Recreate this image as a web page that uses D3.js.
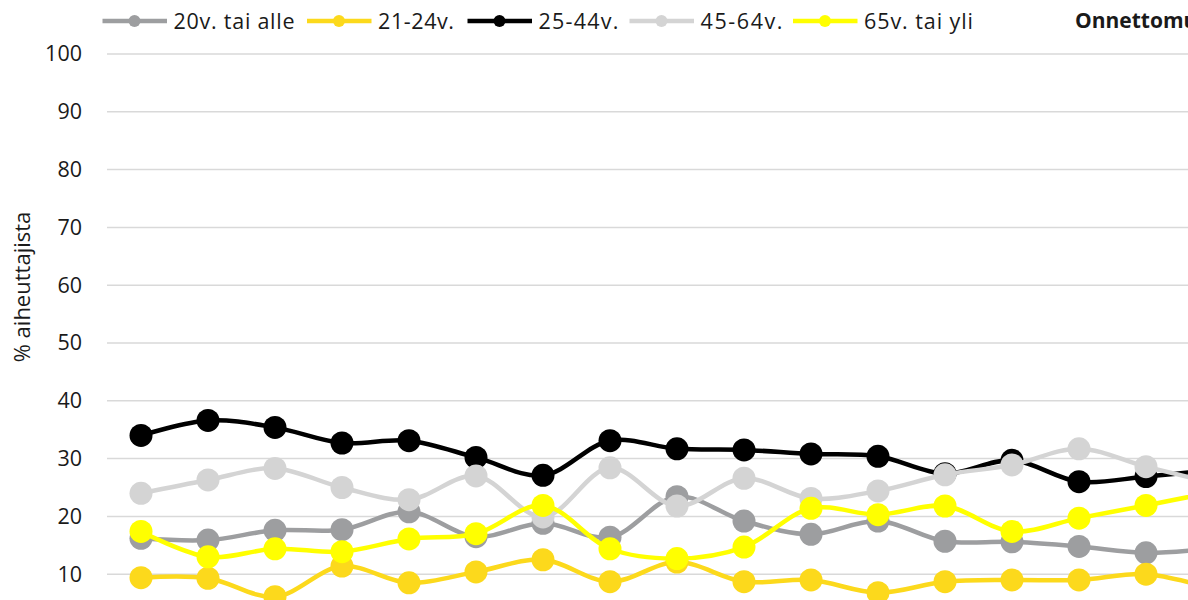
<!DOCTYPE html>
<html>
<head>
<meta charset="utf-8">
<script src="https://cdn.jsdelivr.net/npm/d3@7"></script>
<style>
  html, body { margin: 0; padding: 0; background: #fff; overflow: hidden; }
  svg { display: block; font-family: "Open Sans", "Noto Sans", sans-serif; }
</style>
</head>
<body>
<svg id="chart" width="1188" height="600"></svg>
<script>
// Years on the horizontal axis
const categories = ["2000","2001","2002","2003","2004","2005","2006","2007","2008",
                    "2009","2010","2011","2012","2013","2014","2015","2016"];

// Share of causers (%) by age group
const age20orUnder = [16.2, 15.9, 17.6, 17.7, 20.8, 16.5, 18.8, 16.4, 23.4, 19.2, 16.9, 19.2, 15.7, 15.6, 14.8, 13.7, 14.5];
const age21to24    = [9.4, 9.3, 6.1, 11.4, 8.5, 10.4, 12.5, 8.7, 12.1, 8.7, 9.0, 6.8, 8.7, 9.0, 9.0, 10.0, 7.5];
const age25to44    = [34.0, 36.6, 35.4, 32.7, 33.1, 30.2, 27.1, 33.1, 31.7, 31.5, 30.8, 30.4, 27.4, 29.7, 26.0, 26.9, 28.0];
const age45to64    = [24.0, 26.3, 28.3, 25.0, 22.9, 27.0, 19.9, 28.4, 21.8, 26.6, 23.1, 24.4, 27.2, 28.9, 31.7, 28.6, 25.8];
const age65orOver  = [17.4, 13.0, 14.4, 13.9, 16.1, 17.0, 21.9, 14.4, 12.7, 14.7, 21.4, 20.3, 21.8, 17.4, 19.7, 21.9, 24.2];

const seriesNames = ["20v. tai alle", "21-24v.", "25-44v.", "45-64v.", "65v. tai yli"];
const yTicks = [10, 20, 30, 40, 50, 60, 70, 80, 90, 100];
const yTitle = "% aiheuttajista";
const chartTitle = "Onnettomuudet";

const colors = ["#9d9ea0", "#fcd91c", "#000000", "#d4d4d4", "#ffff00"];
const series = [age20orUnder, age21to24, age25to44, age45to64, age65orOver]
  .map((values, i) => ({ name: seriesNames[i], color: colors[i], values }));

const svg = d3.select("#chart");

const x = d3.scalePoint().domain(categories).range([141, 141 + 67 * (categories.length - 1)]);
const y = d3.scaleLinear().domain([0, 100]).range([632, 54]);

// Horizontal gridlines
svg.append("g")
  .selectAll("line")
  .data(yTicks)
  .join("line")
  .attr("x1", 107).attr("x2", 1400)
  .attr("y1", d => y(d)).attr("y2", d => y(d))
  .attr("stroke", "#d9d9d9").attr("stroke-width", 1.5);

// Y axis labels
const yAxis = svg.append("g")
  .attr("transform", "translate(82,0)")
  .call(d3.axisLeft(y).tickValues(yTicks).tickSize(0).tickPadding(0));
yAxis.select(".domain").remove();
yAxis.selectAll("text")
  .attr("font-family", "'Open Sans', sans-serif")
  .attr("font-size", 21.5)
  .attr("fill", "#1a1a1a");

// Y axis title
svg.append("text")
  .attr("transform", `translate(30,${287}) rotate(-90)`)
  .attr("text-anchor", "middle")
  .attr("font-size", 22)
  .attr("fill", "#1a1a1a")
  .text(yTitle);

// Lines and markers, series by series
const line = d3.line()
  .x((d, i) => x(categories[i]))
  .y(d => y(d))
  .curve(d3.curveCatmullRom.alpha(0.5));

series.forEach(s => {
  const g = svg.append("g");
  g.append("path")
    .attr("d", line(s.values))
    .attr("fill", "none")
    .attr("stroke", s.color)
    .attr("stroke-width", 4.5)
    .attr("stroke-linejoin", "round");
  g.selectAll("circle")
    .data(s.values)
    .join("circle")
    .attr("cx", (d, i) => x(categories[i]))
    .attr("cy", d => y(d))
    .attr("r", 11.5)
    .attr("fill", s.color);
});

// Legend
const legendX = [102.5, 307, 467.5, 629.5, 793];
const legendW = [121, 76, 80, 82, 109];
const legend = svg.append("g");
series.forEach((s, i) => {
  const g = legend.append("g").attr("transform", `translate(${legendX[i]},21)`);
  g.append("line").attr("x1", 0).attr("x2", 64.5).attr("y1", 0).attr("y2", 0)
    .attr("stroke", s.color).attr("stroke-width", 4.5);
  g.append("circle").attr("cx", 32).attr("cy", 0).attr("r", 6).attr("fill", s.color);
  g.append("text").attr("x", 71).attr("y", 0).attr("dy", "0.35em")
    .attr("font-size", 21.5).attr("fill", "#1a1a1a")
    .attr("textLength", legendW[i]).attr("lengthAdjust", "spacing")
    .text(s.name);
});

// Chart title
svg.append("text")
  .attr("x", 1075).attr("y", 21).attr("dy", "0.35em")
  .attr("font-size", 21).attr("font-weight", "bold").attr("fill", "#1a1a1a")
  .text(chartTitle);
</script>
</body>
</html>
